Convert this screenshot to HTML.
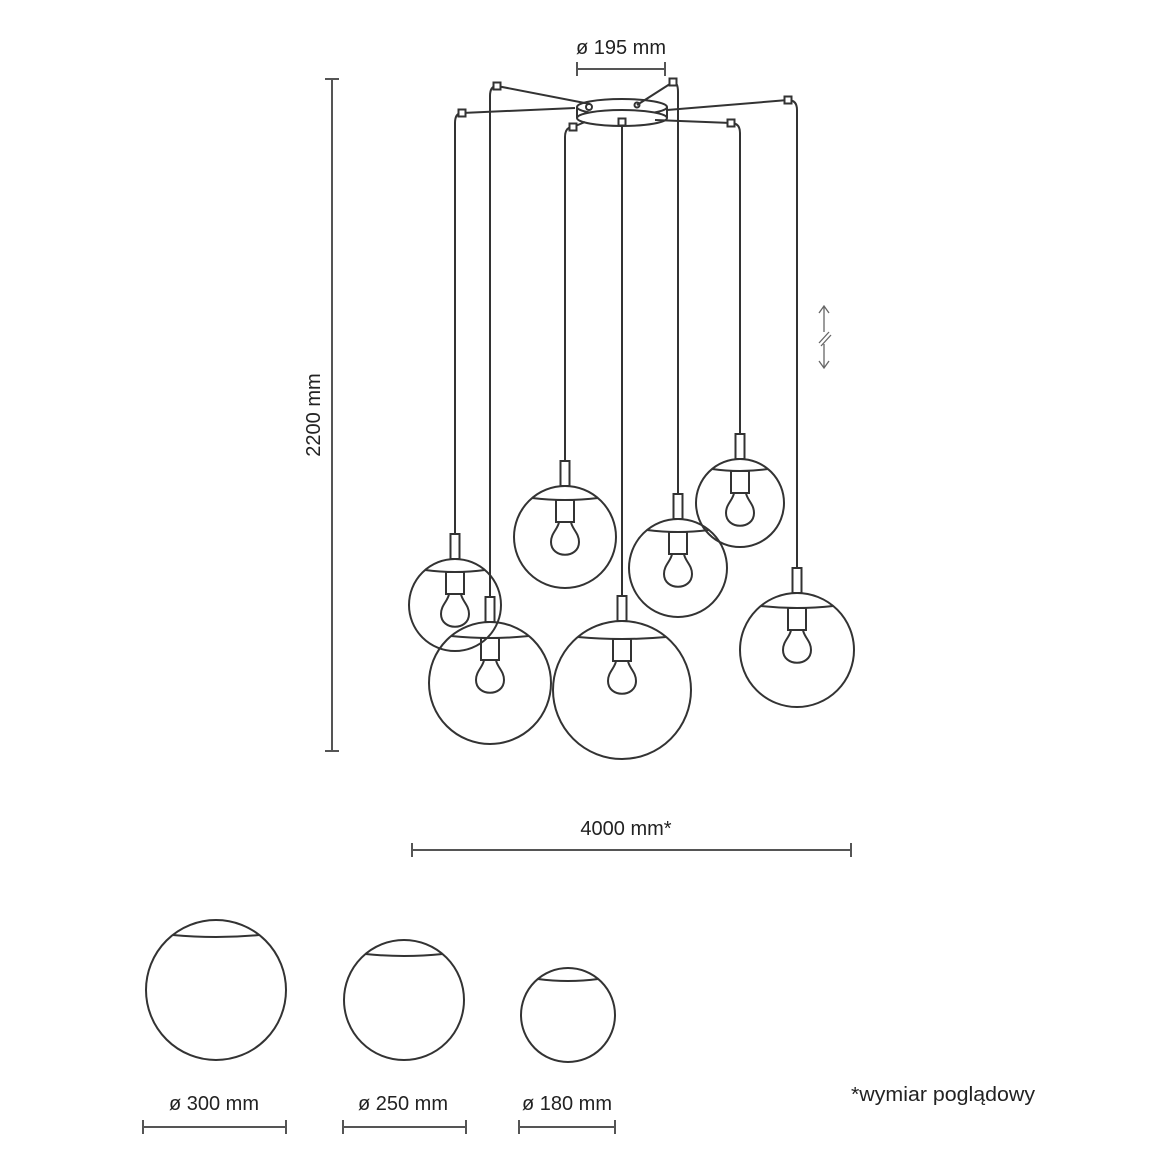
<!DOCTYPE html>
<html><head><meta charset="utf-8"><style>
html,body{margin:0;padding:0;background:#fff}
svg{display:block}
text{font-family:"Liberation Sans",sans-serif;font-size:20px;fill:#222}
</style></head><body>
<svg id="s" width="1160" height="1160" viewBox="0 0 1160 1160" fill="none" stroke="#333" stroke-width="2">
<text x="621" y="54" text-anchor="middle" stroke="none">ø 195 mm</text>
<path d="M577 69H665M577 62V76M665 62V76" stroke="#555"/>
<path d="M332 79V751M325 79H339M325 751H339" stroke="#555"/>
<text transform="translate(320,415) rotate(-90)" text-anchor="middle" stroke="none">2200 mm</text>
<text x="626" y="835" text-anchor="middle" stroke="none">4000 mm*</text>
<path d="M412 850H851M412 843V857M851 843V857" stroke="#555"/>
<path d="M143 1127H286M143 1120V1134M286 1120V1134M343 1127H466M343 1120V1134M466 1120V1134M519 1127H615M519 1120V1134M615 1120V1134" stroke="#555"/>
<text x="214" y="1110" text-anchor="middle" stroke="none">ø 300 mm</text>
<text x="403" y="1110" text-anchor="middle" stroke="none">ø 250 mm</text>
<text x="567" y="1110" text-anchor="middle" stroke="none">ø 180 mm</text>
<text x="943" y="1101" text-anchor="middle" stroke="none" textLength="184" lengthAdjust="spacingAndGlyphs">*wymiar poglądowy</text>
<path d="M824 306V332M824 344V368M819 313L824 306L829 313M819 361L824 368L829 361M819 343L829 332M821 346L831 335" stroke="#666" stroke-width="1.3"/>
<path d="M577 107V118M667 107V118"/>
<ellipse cx="622" cy="107" rx="45" ry="8" fill="#fff"/>
<ellipse cx="622" cy="118" rx="45" ry="8" fill="#fff"/>
<circle cx="589" cy="107" r="3"/><circle cx="637" cy="105" r="2.5"/>
<g id="g"></g>
</svg>
<script>
var g=document.getElementById('g'),h='';
var P=[[462,113,455,605,46,575,108],[497,86,490,683,61,590,104],[573,127,565,537,51,585,122],[622,122,622,690,69,622,122],[673,82,678,568,49,637,105],[731,123,740,503,44,655,120],[788,100,797,650,57,667,110]];
P.forEach(function(p){
 var hx=p[0],hy=p[1],x=p[2],cy=p[3],r=p[4],ax=p[5],ay=p[6];
 var top=cy-r,tt=top-25;
 h+='<path d="M'+ax+' '+ay+'L'+hx+' '+hy+'"/>';
 h+='<path d="M'+hx+' '+hy+'Q'+x+' '+hy+' '+x+' '+(hy+10)+'V'+tt+'"/>';
 h+='<rect x="'+(hx-3.5)+'" y="'+(hy-3.5)+'" width="7" height="7" fill="#fff"/>';
 h+='<rect x="'+(x-4.5)+'" y="'+tt+'" width="9" height="25" fill="#fff"/>';
 h+='<circle cx="'+x+'" cy="'+cy+'" r="'+r+'"/>';
 var d=Math.round(r*0.23),half=Math.sqrt(r*r-(r-d)*(r-d));
 h+='<path d="M'+(x-half)+' '+(top+d)+'Q'+x+' '+(top+d+4)+' '+(x+half)+' '+(top+d)+'"/>';
 var sy=top+d+2;
 h+='<rect x="'+(x-9)+'" y="'+sy+'" width="18" height="22"/>';
 var by=sy+22;
 h+='<path d="M'+(x-6)+' '+by+'C'+(x-7)+' '+(by+7)+' '+(x-14)+' '+(by+11)+' '+(x-14)+' '+(by+20)+'C'+(x-14)+' '+(by+37)+' '+(x+14)+' '+(by+37)+' '+(x+14)+' '+(by+20)+'C'+(x+14)+' '+(by+11)+' '+(x+7)+' '+(by+7)+' '+(x+6)+' '+by+'"/>';
});
[[216,990,70,15],[404,1000,60,14],[568,1015,47,11]].forEach(function(b){
 var x=b[0],cy=b[1],r=b[2],top=cy-r,d=b[3],half=Math.sqrt(r*r-(r-d)*(r-d));
 h+='<circle cx="'+x+'" cy="'+cy+'" r="'+r+'"/>';
 h+='<path d="M'+(x-half)+' '+(top+d)+'Q'+x+' '+(top+d+4)+' '+(x+half)+' '+(top+d)+'"/>';
});
g.innerHTML=h;
</script>
</body></html>
